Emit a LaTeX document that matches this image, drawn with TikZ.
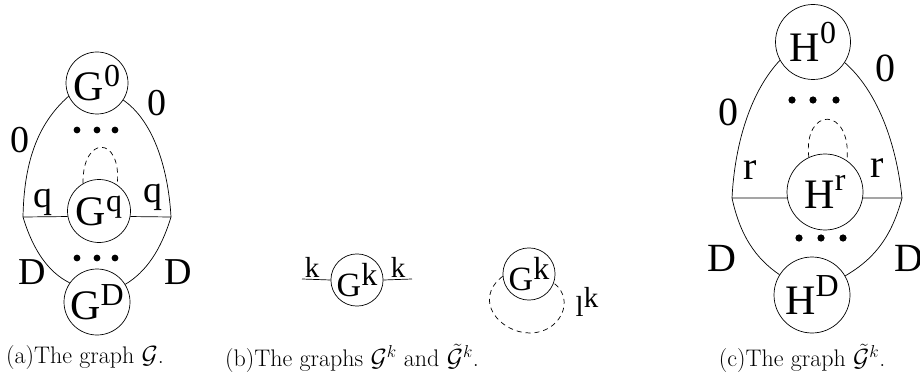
\documentclass[tikz,border=0pt]{standalone}
\usepackage{fontspec}
\usepackage{amsmath,amssymb}
\usepackage{tikz}
\usetikzlibrary{positioning}
\newfontfamily\figfont{Liberation Serif}
% raised index inside a vertex
\newcommand{\upidx}[2][0.33em]{\raisebox{#1}{\fontsize{32}{32}\selectfont #2}}

\begin{document}
\begin{tikzpicture}[
    x=1pt, y=-1pt,
    vtx/.style={draw, circle, inner sep=0pt, line width=0.7pt, font=\figfont\fontsize{42}{42}\selectfont},
    vtxs/.style={draw, circle, inner sep=0pt, line width=0.7pt, minimum size=52pt, font=\figfont\fontsize{34}{34}\selectfont},
    lab/.style={inner sep=0pt, font=\figfont\fontsize{38}{38}\selectfont},
    labc/.style={inner sep=0pt, font=\figfont\fontsize{40}{40}\selectfont},
    labs/.style={inner sep=0pt, font=\figfont\fontsize{29}{29}\selectfont},
    edge/.style={line width=0.7pt},
    loopline/.style={line width=0.7pt, dash pattern=on 5pt off 4pt},
    capt/.style={inner sep=0pt, font=\fontsize{24}{28}\selectfont}
]
\useasboundingbox (0,0) rectangle (920,374);

% (a) the graph G
\node[vtx, minimum size=62pt] (g0) at (97,83) {G\upidx{0}};
\node[vtx, minimum size=63pt] (gq) at (99,211) {G\upidx{q}};
\node[vtx, minimum size=66pt] (gd) at (97,302) {\raisebox{-6pt}{G\upidx{D}}};
\coordinate (ja) at (23,217);
\coordinate (jb) at (171,217);
\fill (77,130) circle[radius=3.4pt] (97,130) circle[radius=3.4pt] (115,130) circle[radius=3.4pt];
\fill (77,258) circle[radius=3.4pt] (97,258) circle[radius=3.4pt] (115,258) circle[radius=3.4pt];
\draw[edge] (g0.205) .. controls (36,125) and (24,165) .. (ja);
\draw[edge] (g0.-33) .. controls (152,120) and (168,165) .. (jb);
\draw[edge] (ja) -- (gq.190);
\draw[edge] (gq.-10) -- (jb);
\draw[edge] (ja) .. controls (33,250) and (48,272) .. (gd.145);
\draw[edge] (jb) .. controls (161,250) and (146,272) .. (gd.32);
\draw[loopline] (gq.120) .. controls (82,135) and (122,135) .. (gq.55);
\node[lab] (l0a) at (20,140) {0};
\node[lab] (r0a) at (157,103) {0};
\node[lab] (lqa) at (43,202) {q};
\node[lab] (rqa) at (153,197) {q};
\node[lab] (lda) at (32,272) {D};
\node[lab] (rda) at (178,272) {D};
\node[capt] (capa) at (85,358) {(a)The graph $\mathcal{G}$.};

% (b) the graphs G^k and tilde G^k
\node[vtxs] (gk) at (357,280) {G\upidx[0.3em]{k}};
\coordinate (ka) at (302,279);
\coordinate (kb) at (412,279);
\draw[edge] (ka) -- (gk.west);
\draw[edge] (gk.east) -- (kb);
\node[labs] (lka) at (312,267) {k};
\node[labs] (rka) at (398,267) {k};
\node[vtxs] (gl) at (529,274) {G\upidx[0.3em]{k}};
\draw[loopline] (gl.185) .. controls (472,300) and (500,333) .. (530,333)
    .. controls (560,333) and (576,300) .. (gl.-20);
\node[labs] (lk) at (587,302) {l\raisebox{0.33em}{k}};
\node[capt] (capb) at (352,358) {(b)The graphs $\mathcal{G}^k$ and $\tilde{\mathcal{G}}^k$.};

% (c) the graph tilde G^k
\node[vtx, minimum size=75pt] (h0) at (813,42) {H\upidx[0.42em]{0}};
\node[vtx, minimum size=76pt] (hr) at (825,192) {H\upidx[0.42em]{r}};
\node[vtx, minimum size=76pt] (hd) at (812,295) {H\upidx[0.42em]{D}};
\coordinate (jc) at (732,198);
\coordinate (jd) at (902,198);
\fill (792,100) circle[radius=3.6pt] (813,100) circle[radius=3.6pt] (836,100) circle[radius=3.6pt];
\fill (799,238) circle[radius=3.6pt] (821,238) circle[radius=3.6pt] (843,238) circle[radius=3.6pt];
\draw[edge] (h0.209) .. controls (752,90) and (735,140) .. (jc);
\draw[edge] (h0.-33) .. controls (876,90) and (896,140) .. (jd);
\draw[edge] (jc) -- (hr.189);
\draw[edge] (hr.-9) -- (jd);
\draw[edge] (jc) .. controls (740,235) and (755,258) .. (hd.148);
\draw[edge] (jd) .. controls (892,235) and (876,258) .. (hd.30);
\draw[loopline] (hr.115) .. controls (803,106) and (852,106) .. (hr.55);
\node[labc] (l0c) at (728,112) {0};
\node[labc] (r0c) at (885,68) {0};
\node[labc] (lrc) at (750,170) {r};
\node[labc] (rrc) at (877,168) {r};
\node[labc] (ldc) at (722,258) {D};
\node[labc] (rdc) at (909,258) {D};
\node[capt] (capc) at (802,358) {(c)The graph $\tilde{\mathcal{G}}^k$.};
\end{tikzpicture}
\end{document}
